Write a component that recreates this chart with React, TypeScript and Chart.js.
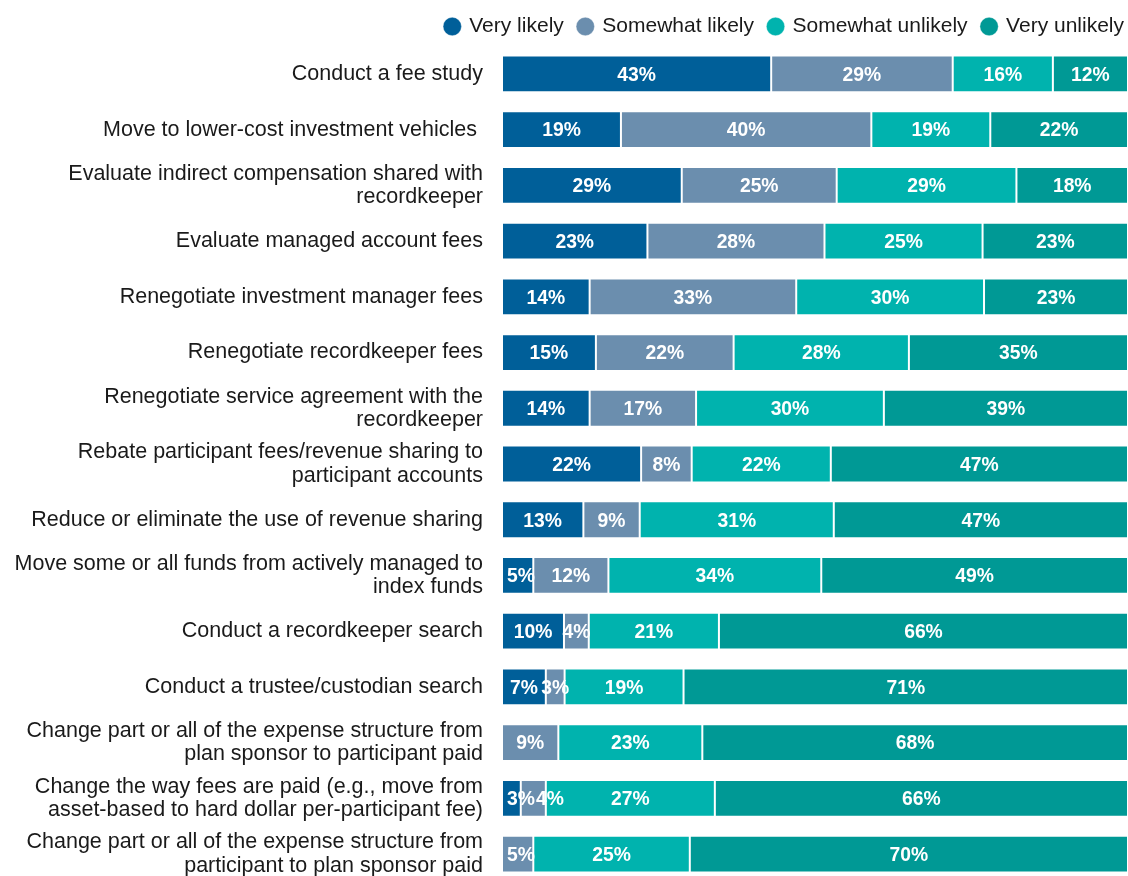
import React, { useEffect, useRef } from "react";
import { Chart, registerables } from "chart.js";

Chart.register(...registerables);

const categories: (string | string[])[] = [
  "Conduct a fee study",
  "Move to lower-cost investment vehicles ",
  ["Evaluate indirect compensation shared with", "recordkeeper"],
  "Evaluate managed account fees",
  "Renegotiate investment manager fees",
  "Renegotiate recordkeeper fees",
  ["Renegotiate service agreement with the", "recordkeeper"],
  ["Rebate participant fees/revenue sharing to", "participant accounts"],
  "Reduce or eliminate the use of revenue sharing",
  ["Move some or all funds from actively managed to", "index funds"],
  "Conduct a recordkeeper search",
  "Conduct a trustee/custodian search",
  ["Change part or all of the expense structure from", "plan sponsor to participant paid"],
  ["Change the way fees are paid (e.g., move from", "asset-based to hard dollar per-participant fee)"],
  ["Change part or all of the expense structure from", "participant to plan sponsor paid"],
];

const seriesNames = ["Very likely", "Somewhat likely", "Somewhat unlikely", "Very unlikely"];
const seriesColors = ["#005F99", "#6B8EAE", "#00B3AE", "#009995"];

const veryLikely = [43, 19, 29, 23, 14, 15, 14, 22, 13, 5, 10, 7, 0, 3, 0];
const somewhatLikely = [29, 40, 25, 28, 33, 22, 17, 8, 9, 12, 4, 3, 9, 4, 5];
const somewhatUnlikely = [16, 19, 29, 25, 30, 28, 30, 22, 31, 34, 21, 19, 23, 27, 25];
const veryUnlikely = [12, 22, 18, 23, 23, 35, 39, 47, 47, 49, 66, 71, 68, 66, 70];

const seriesValues = [veryLikely, somewhatLikely, somewhatUnlikely, veryUnlikely];

const FONT = "'Liberation Sans', Arial, Helvetica, sans-serif";

const labelPlugin = {
  id: "segLabels",
  afterDatasetsDraw(chart: any) {
    const ctx = chart.ctx as CanvasRenderingContext2D;
    const area = chart.chartArea;
    const squeeze = 0.92;
    ctx.save();
    ctx.font = `bold 21px ${FONT}`;
    ctx.fillStyle = "#ffffff";
    ctx.textBaseline = "middle";
    ctx.textAlign = "left";
    categories.forEach((_, i) => {
      let prevRight = area.left + 4;
      seriesValues.forEach((vals, d) => {
        const v = vals[i];
        if (!v) return;
        const el = chart.getDatasetMeta(d).data[i];
        if (!el) return;
        const text = `${v}%`;
        const w = ctx.measureText(text).width * squeeze;
        const center = (el.x + el.base) / 2;
        let left = center - w / 2;
        if (left < prevRight + 1) left = prevRight + 1;
        ctx.save();
        ctx.translate(left, el.y + 1);
        ctx.scale(squeeze, 1);
        ctx.fillText(text, 0, 0);
        ctx.restore();
        prevRight = left + w;
      });
    });
    ctx.restore();
  },
};

const legendShift = {
  id: "legendShift",
  afterLayout(chart: any) {
    const lg = chart.legend;
    if (lg) {
      lg.left += 11;
      lg.right += 11;
      lg.top += 1;
      lg.bottom += 1;
    }
  },
};

export default function App() {
  const ref = useRef<HTMLCanvasElement>(null);
  useEffect(() => {
    if (!ref.current) return;
    const totals = categories.map((_, i) => seriesValues.reduce((s, arr) => s + arr[i], 0));
    const chart = new Chart(ref.current, {
      type: "bar",
      data: {
        labels: categories,
        datasets: seriesNames.map((name, d) => ({
          label: name,
          data: seriesValues[d].map((v, i) => (v / totals[i]) * 100),
          backgroundColor: seriesColors[d],
          borderColor: "rgba(255,255,255,0.35)",
          borderWidth: 1,
          borderSkipped: false,
          categoryPercentage: 1,
          barPercentage: 0.66,
        })),
      },
      options: {
        indexAxis: "y",
        animation: false,
        responsive: false,
        maintainAspectRatio: false,
        layout: { padding: { top: 0, left: 0, right: 0, bottom: 0 } },
        plugins: {
          legend: {
            position: "top",
            align: "end",
            labels: {
              usePointStyle: true,
              pointStyle: "circle",
              boxWidth: 13,
              boxHeight: 13,
              padding: 15,
              color: "#1a1a1a",
              font: { family: FONT, size: 21 },
            },
          },
          tooltip: { enabled: false },
        },
        scales: {
          x: {
            stacked: true,
            display: false,
            min: 0,
            max: 100,
          },
          y: {
            stacked: true,
            grid: { display: false, drawTicks: false },
            border: { display: false },
            ticks: {
              color: "#1a1a1a",
              padding: 19,
              autoSkip: false,
              font: { family: FONT, size: 21.5, lineHeight: 1.08 },
            },
            afterFit(scale: any) {
              scale.width = 502;
              scale.paddingTop = 0;
              scale.paddingBottom = 0;
            },
          },
        },
      },
      plugins: [labelPlugin, legendShift],
    });
    return () => chart.destroy();
  }, []);
  return (
    <div style={{ position: "absolute", left: 0, top: 0, width: 1128, height: 882, background: "#fff" }}>
      <canvas ref={ref} width={1128} height={882} style={{ display: "block", width: 1128, height: 882 }} />
    </div>
  );
}
